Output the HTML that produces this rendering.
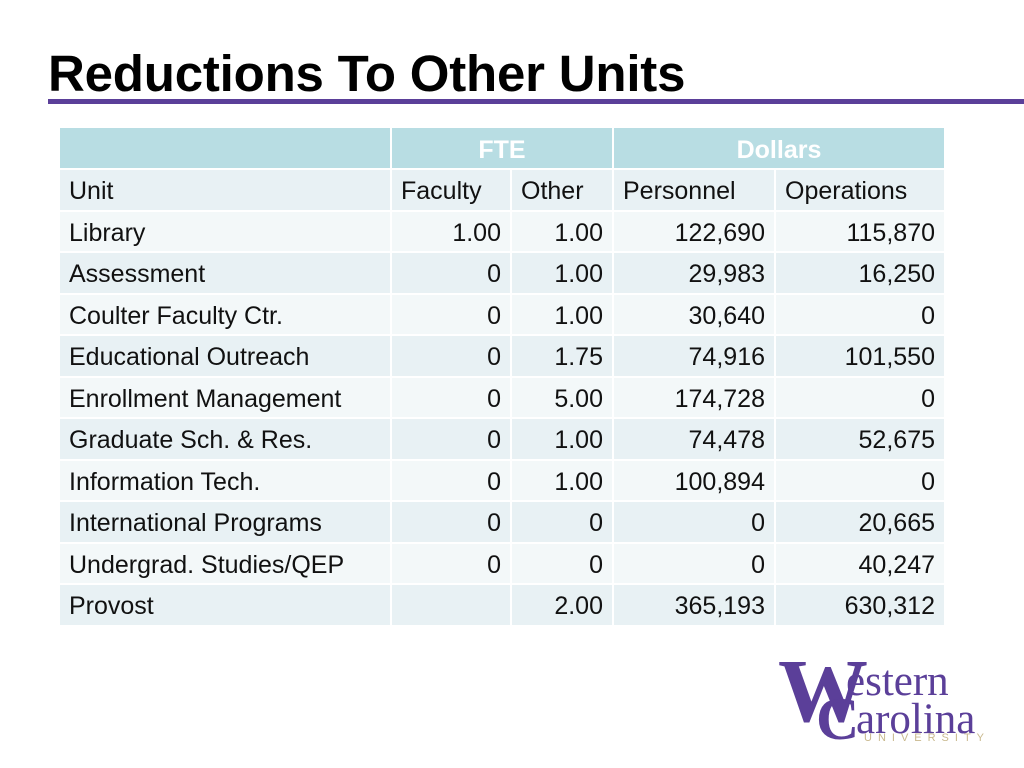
<!DOCTYPE html>
<html><head><meta charset="utf-8"><style>
body{margin:0;width:1024px;height:768px;background:#fff;position:relative;overflow:hidden;font-family:"Liberation Sans",Arial,sans-serif}
h1{position:absolute;left:48px;top:44px;margin:0;font-size:51px;line-height:60px;font-weight:bold;color:#000;letter-spacing:-0.2px}
.rule{position:absolute;left:48px;top:99px;width:976px;height:5px;background:#5b3f99}
table{position:absolute;left:58px;top:126px;border-collapse:separate;border-spacing:2px;font-size:25px;color:#111}
td{padding:4px 9px 0;height:39.5px;box-sizing:border-box;white-space:nowrap}
tr.h td{background:#b8dde3;color:#fff;font-weight:bold;text-align:center;height:40px}
tr:nth-child(even) td{background:#e8f1f4}
tr:nth-child(odd):not(.h) td{background:#f3f8f9}
td.n{text-align:right}
.logo{position:absolute;left:778px;top:654px;font-family:"Liberation Serif",serif;color:#5b3f99}
</style></head><body>
<h1>Reductions To Other Units</h1>
<div class="rule"></div>
<table>
<colgroup><col style="width:330px"><col style="width:118px"><col style="width:100px"><col style="width:160px"><col style="width:168px"></colgroup>
<tr class="h"><td></td><td colspan="2">FTE</td><td colspan="2">Dollars</td></tr>
<tr><td>Unit</td><td>Faculty</td><td>Other</td><td>Personnel</td><td>Operations</td></tr>
<tr><td>Library</td><td class="n">1.00</td><td class="n">1.00</td><td class="n">122,690</td><td class="n">115,870</td></tr>
<tr><td>Assessment</td><td class="n">0</td><td class="n">1.00</td><td class="n">29,983</td><td class="n">16,250</td></tr>
<tr><td>Coulter Faculty Ctr.</td><td class="n">0</td><td class="n">1.00</td><td class="n">30,640</td><td class="n">0</td></tr>
<tr><td>Educational Outreach</td><td class="n">0</td><td class="n">1.75</td><td class="n">74,916</td><td class="n">101,550</td></tr>
<tr><td>Enrollment Management</td><td class="n">0</td><td class="n">5.00</td><td class="n">174,728</td><td class="n">0</td></tr>
<tr><td>Graduate Sch. &amp; Res.</td><td class="n">0</td><td class="n">1.00</td><td class="n">74,478</td><td class="n">52,675</td></tr>
<tr><td>Information Tech.</td><td class="n">0</td><td class="n">1.00</td><td class="n">100,894</td><td class="n">0</td></tr>
<tr><td>International Programs</td><td class="n">0</td><td class="n">0</td><td class="n">0</td><td class="n">20,665</td></tr>
<tr><td>Undergrad. Studies/QEP</td><td class="n">0</td><td class="n">0</td><td class="n">0</td><td class="n">40,247</td></tr>
<tr><td>Provost</td><td class="n"></td><td class="n">2.00</td><td class="n">365,193</td><td class="n">630,312</td></tr>
</table>
<div class="logo">
<div style="position:absolute;left:0;top:0;font-size:90px;line-height:76px;font-weight:bold">W</div>
<div style="position:absolute;left:68px;top:6px;font-size:43px;line-height:44px">estern</div>
<div style="position:absolute;left:38px;top:38px;font-size:60px;line-height:54px;font-weight:bold">C</div>
<div style="position:absolute;left:78px;top:44px;font-size:43px;line-height:44px">arolina</div>
<div style="position:absolute;left:86px;top:78px;font-family:'Liberation Sans',sans-serif;font-size:11px;letter-spacing:6px;color:#c9b98e">UNIVERSITY</div>
</div>
</body></html>
